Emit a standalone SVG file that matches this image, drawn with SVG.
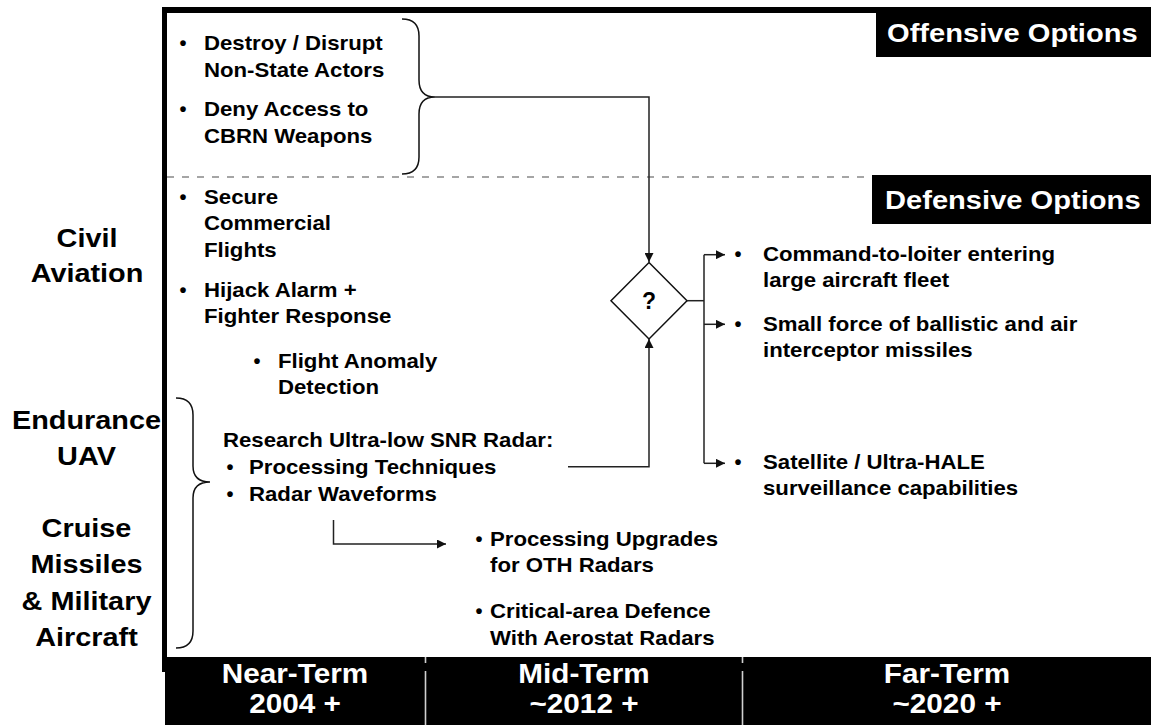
<svg xmlns="http://www.w3.org/2000/svg" width="1151" height="725" viewBox="0 0 1151 725">
<style>
text{font-family:"Liberation Sans",Arial,sans-serif;font-weight:bold;fill:#000}
.b{font-size:20px}
.h{font-size:26px;fill:#fff}
.lab{font-size:26px;text-anchor:middle}
.bar{font-size:27px;fill:#fff;text-anchor:middle}
.q{font-size:23px;text-anchor:middle}
.bul{font-size:20px;text-anchor:middle}
.ln{fill:none;stroke:#222;stroke-width:1.5}
.br{fill:none;stroke:#111;stroke-width:1.5}
.dv{stroke:#d0d0d0;stroke-width:1.6}
</style>
<defs>
<marker id="ah" viewBox="0 0 10 10" refX="10" refY="5" markerWidth="9" markerHeight="9" markerUnits="userSpaceOnUse" orient="auto"><path d="M0,0 L10,5 L0,10 z" fill="#111"/></marker>
</defs>
<rect width="1151" height="725" fill="#fff"/>
<g id="frame">
<rect x="162" y="7" width="714" height="6" fill="#000"/>
<rect x="162" y="7" width="5" height="665" fill="#000"/>
<line x1="167" y1="177" x2="872" y2="177" stroke="#888" stroke-width="1.3" stroke-dasharray="7 8"/>
</g>
<g id="offensive-header">
<rect x="876" y="7" width="275" height="50" fill="#000"/>
<text class="h" transform="matrix(1.12 0 0 1 887 42)">Offensive Options</text>
</g>
<g id="defensive-header">
<rect x="872" y="175" width="279" height="49" fill="#000"/>
<text class="h" transform="matrix(1.12 0 0 1 885 208.5)">Defensive Options</text>
</g>
<g id="offensive-items">
<text class="bul" x="183" y="50">•</text>
<text class="b" transform="matrix(1.11 0 0 1 204 50)"><tspan x="0">Destroy / Disrupt</tspan><tspan x="0" dy="27">Non-State Actors</tspan></text>
<text class="bul" x="183" y="116">•</text>
<text class="b" transform="matrix(1.11 0 0 1 204 116)"><tspan x="0">Deny Access to</tspan><tspan x="0" dy="27">CBRN Weapons</tspan></text>
<path class="br" d="M402,19 Q419,19 419,36 V80 Q419,97 435,97 Q419,97 419,114 V157 Q419,174 402,174"/>
</g>
<g id="defensive-items">
<text class="bul" x="183" y="204">•</text>
<text class="b" transform="matrix(1.11 0 0 1 204 204)"><tspan x="0">Secure</tspan><tspan x="0" dy="26.5">Commercial</tspan><tspan x="0" dy="26.5">Flights</tspan></text>
<text class="bul" x="183" y="297">•</text>
<text class="b" transform="matrix(1.11 0 0 1 204 297)"><tspan x="0">Hijack Alarm +</tspan><tspan x="0" dy="26">Fighter Response</tspan></text>
<text class="bul" x="257" y="368">•</text>
<text class="b" transform="matrix(1.11 0 0 1 278 368)"><tspan x="0">Flight Anomaly</tspan><tspan x="0" dy="26">Detection</tspan></text>
</g>
<g id="decision">
<polygon points="649,262.5 687,300.7 649,339 611,300.7" fill="#fff" stroke="#111" stroke-width="1.5"/>
<text class="q" x="649" y="308.5">?</text>
</g>
<g id="far-options">
<text class="bul" x="738" y="261">•</text>
<text class="b" transform="matrix(1.11 0 0 1 763 261)"><tspan x="0">Command-to-loiter entering</tspan><tspan x="0" dy="26">large aircraft fleet</tspan></text>
<text class="bul" x="738" y="331">•</text>
<text class="b" transform="matrix(1.11 0 0 1 763 331)"><tspan x="0">Small force of ballistic and air</tspan><tspan x="0" dy="26">interceptor missiles</tspan></text>
<text class="bul" x="738" y="469">•</text>
<text class="b" transform="matrix(1.11 0 0 1 763 469)"><tspan x="0">Satellite / Ultra-HALE</tspan><tspan x="0" dy="26">surveillance capabilities</tspan></text>
</g>
<g id="research">
<text class="b" transform="matrix(1.11 0 0 1 223 447)">Research Ultra-low SNR Radar:</text>
<text class="bul" x="230" y="474">•</text>
<text class="b" transform="matrix(1.11 0 0 1 249 474)">Processing Techniques</text>
<text class="bul" x="230" y="501">•</text>
<text class="b" transform="matrix(1.11 0 0 1 249 501)">Radar Waveforms</text>
<path class="br" d="M176,398 Q193,398 193,415 V466 Q193,482 210,482 Q193,482 193,498 V631 Q193,648 176,648"/>
</g>
<g id="mid-options">
<text class="bul" x="479" y="546">•</text>
<text class="b" transform="matrix(1.11 0 0 1 490 546)"><tspan x="0">Processing Upgrades</tspan><tspan x="0" dy="26">for OTH Radars</tspan></text>
<text class="bul" x="479" y="618">•</text>
<text class="b" transform="matrix(1.11 0 0 1 490 618)"><tspan x="0">Critical-area Defence</tspan><tspan x="0" dy="27">With Aerostat Radars</tspan></text>
</g>
<g id="threat-labels">
<text class="lab" transform="matrix(1.11 0 0 1 87 247)"><tspan x="0">Civil</tspan><tspan x="0" dy="35">Aviation</tspan></text>
<text class="lab" transform="matrix(1.11 0 0 1 86.5 429)"><tspan x="0">Endurance</tspan><tspan x="0" dy="36">UAV</tspan></text>
<text class="lab" transform="matrix(1.11 0 0 1 86.5 537)"><tspan x="0">Cruise</tspan><tspan x="0" dy="36.5">Missiles</tspan><tspan x="0" dy="36.5">&amp; Military</tspan><tspan x="0" dy="36.5">Aircraft</tspan></text>
</g>
<g id="timeline">
<rect x="165" y="657" width="986" height="68" fill="#000"/>
<line class="dv" x1="425.5" y1="657" x2="425.5" y2="663"/>
<line class="dv" x1="425.5" y1="671" x2="425.5" y2="725"/>
<line class="dv" x1="742.5" y1="657" x2="742.5" y2="663"/>
<line class="dv" x1="742.5" y1="671" x2="742.5" y2="725"/>
<text class="bar" transform="matrix(1.1 0 0 1 295 683)"><tspan x="0">Near-Term</tspan><tspan x="0" dy="30">2004 +</tspan></text>
<text class="bar" transform="matrix(1.1 0 0 1 584 683)"><tspan x="0">Mid-Term</tspan><tspan x="0" dy="30">~2012 +</tspan></text>
<text class="bar" transform="matrix(1.1 0 0 1 947 683)"><tspan x="0">Far-Term</tspan><tspan x="0" dy="30">~2020 +</tspan></text>
</g>
<g id="connectors">
<path class="ln" d="M435,97 H649 V262" marker-end="url(#ah)"/>
<path class="ln" d="M568,466.7 H649 V339" marker-end="url(#ah)"/>
<path class="ln" d="M687,300.7 H704"/>
<path class="ln" d="M704,254.7 V463.3"/>
<path class="ln" d="M704,254.7 H725" marker-end="url(#ah)"/>
<path class="ln" d="M704,324.3 H725" marker-end="url(#ah)"/>
<path class="ln" d="M704,463.3 H725" marker-end="url(#ah)"/>
<path class="ln" d="M333.5,520 V544 H446" marker-end="url(#ah)"/>
</g>
</svg>
